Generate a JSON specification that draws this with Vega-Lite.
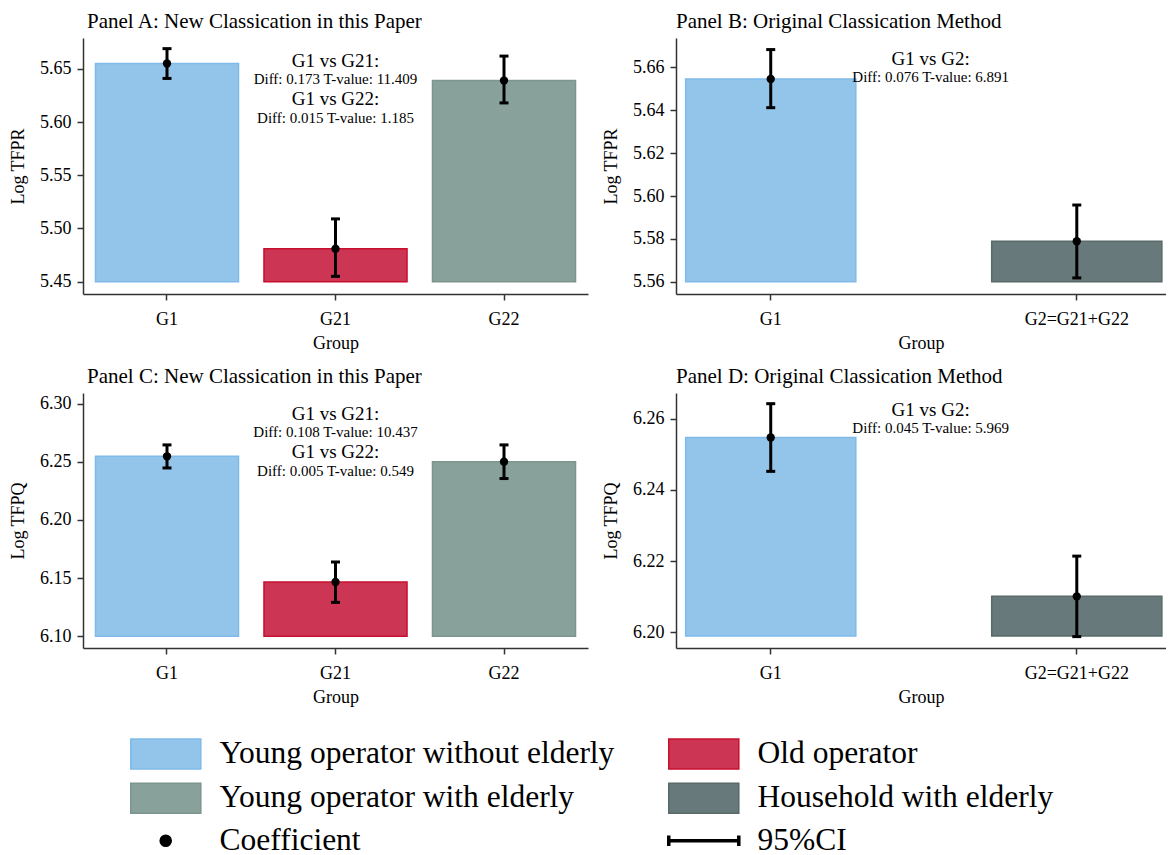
{
  "$schema": "https://vega.github.io/schema/vega-lite/v6.json",
  "padding": {"left": 9, "top": 11, "right": 0, "bottom": 0},
  "background": "white",
  "spacing": 14,
  "config": {
    "font": "Liberation Serif",
    "view": {"stroke": null},
    "axis": {"labelFont": "Liberation Serif", "titleFont": "Liberation Serif", "labelFontSize": 18, "titleFontSize": 18, "titleFontWeight": "normal", "labelColor": "black", "titleColor": "black", "domainColor": "#333333", "tickColor": "#333333", "domainWidth": 1.5, "tickWidth": 1.5, "tickSize": 6, "grid": false, "labelPadding": 6},
    "axisX": {"labelAngle": 0, "titlePadding": 6, "labelPadding": 10},
    "axisY": {"titlePadding": 12},
    "legend": {"labelFont": "serif", "labelFontSize": 31.5, "labelColor": "black"},
    "title": {"font": "Liberation Serif", "fontSize": 21, "fontWeight": "normal", "anchor": "start", "frame": "group", "offset": 6, "color": "black"},
    "text": {"font": "Liberation Serif", "color": "black"}
  },
  "vconcat": [
    {
      "spacing": 14,
      "hconcat": [
        {
          "width": 505, "height": 256,
          "title": {"text": "Panel A: New Classication in this Paper", "dx": 4},
          "data": {"values": [
            {"group": "G1", "type": "Young operator without elderly", "coef": 5.655, "lo": 5.641, "hi": 5.669},
            {"group": "G21", "type": "Old operator", "coef": 5.481, "lo": 5.455, "hi": 5.509},
            {"group": "G22", "type": "Young operator with elderly", "coef": 5.639, "lo": 5.618, "hi": 5.662}
          ]},
          "encoding": {"x": {"field": "group", "type": "nominal", "title": "Group", "sort": null, "scale": {"paddingInner": 0.151, "paddingOuter": 0.074}}},
          "layer": [
            {"mark": {"type": "bar", "strokeWidth": 1.5},
             "encoding": {
               "y": {"field": "coef", "type": "quantitative", "title": "Log TFPR", "scale": {"domain": [5.4384, 5.679], "nice": false, "zero": false}, "axis": {"values": [5.45, 5.5, 5.55, 5.6, 5.65], "format": ".2f"}},
               "y2": {"datum": 5.45},
               "color": {"field": "type", "type": "nominal", "scale": {"domain": ["Young operator without elderly", "Young operator with elderly", "Coefficient", "Old operator", "Household with elderly", "95%CI"], "range": ["#93c4e9", "#88a19a", "#000000", "#cd3555", "#67797a", "#000000"]},
                 "legend": {"title": null, "orient": "none", "legendX": 47, "legendY": 700, "columns": 2, "columnPadding": 46, "rowPadding": 7.5, "symbolSize": 900, "labelFont": "serif", "labelFontSize": 31.5, "labelLimit": 1000, "labelOffset": 58, "labelColor": "black",
                   "encode": {"symbols": {"update": {
                     "shape": {"signal": "datum.value === 'Coefficient' ? 'M0.96,0A0.37,0.37 0 1,1 1.7,0A0.37,0.37 0 1,1 0.96,0Z' : (datum.value === '95%CI' ? 'M-1,0H3.67M-1,-0.35V0.35M3.67,-0.35V0.35' : 'M-1,-1H3.67V1H-1Z')"},
                     "fill": {"scale": "color", "field": "value"},
                     "stroke": {"scale": "stroke", "field": "value"},
                     "strokeWidth": {"signal": "datum.value === '95%CI' ? 3.5 : 1.5"},
                     "opacity": {"value": 1}
                   }}}}},
               "stroke": {"field": "type", "type": "nominal", "legend": null, "scale": {"domain": ["Young operator without elderly", "Young operator with elderly", "Coefficient", "Old operator", "Household with elderly", "95%CI"], "range": ["#7fbaea", "#7c968f", "#000000", "#c8102e", "#586b69", "#000000"]}}
             }},
            {"mark": {"type": "rule", "strokeWidth": 3, "color": "black"},
             "encoding": {"y": {"field": "lo", "type": "quantitative", "title": "Log TFPR"}, "y2": {"field": "hi"}}},
            {"mark": {"type": "tick", "orient": "horizontal", "size": 9, "thickness": 3, "color": "black", "opacity": 1},
             "encoding": {"y": {"field": "lo", "type": "quantitative", "title": "Log TFPR"}}},
            {"mark": {"type": "tick", "orient": "horizontal", "size": 9, "thickness": 3, "color": "black", "opacity": 1},
             "encoding": {"y": {"field": "hi", "type": "quantitative", "title": "Log TFPR"}}},
            {"mark": {"type": "circle", "size": 70, "color": "black", "opacity": 1},
             "encoding": {"y": {"field": "coef", "type": "quantitative", "title": "Log TFPR"}}},
            {"data": {"values": [{"t": "G1 vs G21:"}]},
             "mark": {"type": "text", "fontSize": 19, "baseline": "middle", "align": "center"},
             "encoding": {"x": {"datum": "G21"}, "y": {"datum": 5.6578, "type": "quantitative"}, "text": {"field": "t"}}},
            {"data": {"values": [{"t": "Diff: 0.173 T-value: 11.409"}]},
             "mark": {"type": "text", "fontSize": 15, "baseline": "middle", "align": "center"},
             "encoding": {"x": {"datum": "G21"}, "y": {"datum": 5.6406, "type": "quantitative"}, "text": {"field": "t"}}},
            {"data": {"values": [{"t": "G1 vs G22:"}]},
             "mark": {"type": "text", "fontSize": 19, "baseline": "middle", "align": "center"},
             "encoding": {"x": {"datum": "G21"}, "y": {"datum": 5.6213, "type": "quantitative"}, "text": {"field": "t"}}},
            {"data": {"values": [{"t": "Diff: 0.015 T-value: 1.185"}]},
             "mark": {"type": "text", "fontSize": 15, "baseline": "middle", "align": "center"},
             "encoding": {"x": {"datum": "G21"}, "y": {"datum": 5.6041, "type": "quantitative"}, "text": {"field": "t"}}}
          ]
        },
        {
          "width": 490, "height": 256,
          "title": {"text": "Panel B: Original Classication Method"},
          "data": {"values": [
            {"group": "G1", "type": "Young operator without elderly", "coef": 5.6546, "lo": 5.6412, "hi": 5.6683},
            {"group": "G2=G21+G22", "type": "Household with elderly", "coef": 5.5789, "lo": 5.5618, "hi": 5.5958}
          ]},
          "encoding": {"x": {"field": "group", "type": "nominal", "title": "Group", "sort": null, "scale": {"paddingInner": 0.444, "paddingOuter": 0.0225, "align": 0.7}}},
          "layer": [
            {"mark": {"type": "bar", "strokeWidth": 1.5},
             "encoding": {
               "y": {"field": "coef", "type": "quantitative", "title": "Log TFPR", "scale": {"domain": [5.5543, 5.6737], "nice": false, "zero": false}, "axis": {"values": [5.56, 5.58, 5.6, 5.62, 5.64, 5.66], "format": ".2f"}},
               "y2": {"datum": 5.56},
               "color": {"field": "type", "type": "nominal", "scale": {"domain": ["Young operator without elderly", "Young operator with elderly", "Coefficient", "Old operator", "Household with elderly", "95%CI"], "range": ["#93c4e9", "#88a19a", "#000000", "#cd3555", "#67797a", "#000000"]},
                 "legend": {"title": null, "orient": "none", "legendX": 47, "legendY": 700, "columns": 2, "columnPadding": 46, "rowPadding": 7.5, "symbolSize": 900, "labelFont": "serif", "labelFontSize": 31.5, "labelLimit": 1000, "labelOffset": 58, "labelColor": "black",
                   "encode": {"symbols": {"update": {
                     "shape": {"signal": "datum.value === 'Coefficient' ? 'M0.96,0A0.37,0.37 0 1,1 1.7,0A0.37,0.37 0 1,1 0.96,0Z' : (datum.value === '95%CI' ? 'M-1,0H3.67M-1,-0.35V0.35M3.67,-0.35V0.35' : 'M-1,-1H3.67V1H-1Z')"},
                     "fill": {"scale": "color", "field": "value"},
                     "stroke": {"scale": "stroke", "field": "value"},
                     "strokeWidth": {"signal": "datum.value === '95%CI' ? 3.5 : 1.5"},
                     "opacity": {"value": 1}
                   }}}}},
               "stroke": {"field": "type", "type": "nominal", "legend": null, "scale": {"domain": ["Young operator without elderly", "Young operator with elderly", "Coefficient", "Old operator", "Household with elderly", "95%CI"], "range": ["#7fbaea", "#7c968f", "#000000", "#c8102e", "#586b69", "#000000"]}}
             }},
            {"mark": {"type": "rule", "strokeWidth": 3, "color": "black"},
             "encoding": {"y": {"field": "lo", "type": "quantitative", "title": "Log TFPR"}, "y2": {"field": "hi"}}},
            {"mark": {"type": "tick", "orient": "horizontal", "size": 9, "thickness": 3, "color": "black", "opacity": 1},
             "encoding": {"y": {"field": "lo", "type": "quantitative", "title": "Log TFPR"}}},
            {"mark": {"type": "tick", "orient": "horizontal", "size": 9, "thickness": 3, "color": "black", "opacity": 1},
             "encoding": {"y": {"field": "hi", "type": "quantitative", "title": "Log TFPR"}}},
            {"mark": {"type": "circle", "size": 70, "color": "black", "opacity": 1},
             "encoding": {"y": {"field": "coef", "type": "quantitative", "title": "Log TFPR"}}},
            {"data": {"values": [{"t": "G1 vs G2:"}]},
             "mark": {"type": "text", "fontSize": 19, "baseline": "middle", "align": "center"},
             "encoding": {"x": {"datum": "G1", "bandPosition": 1.44}, "y": {"datum": 5.6638, "type": "quantitative"}, "text": {"field": "t"}}},
            {"data": {"values": [{"t": "Diff: 0.076 T-value: 6.891"}]},
             "mark": {"type": "text", "fontSize": 15, "baseline": "middle", "align": "center"},
             "encoding": {"x": {"datum": "G1", "bandPosition": 1.44}, "y": {"datum": 5.6557, "type": "quantitative"}, "text": {"field": "t"}}}
          ]
        }
      ]
    },
    {
      "spacing": 14,
      "hconcat": [
        {
          "width": 505, "height": 255,
          "title": {"text": "Panel C: New Classication in this Paper", "dx": 4},
          "data": {"values": [
            {"group": "G1", "type": "Young operator without elderly", "coef": 6.2547, "lo": 6.2447, "hi": 6.2645},
            {"group": "G21", "type": "Old operator", "coef": 6.1467, "lo": 6.1292, "hi": 6.1639},
            {"group": "G22", "type": "Young operator with elderly", "coef": 6.2501, "lo": 6.2356, "hi": 6.2645}
          ]},
          "encoding": {"x": {"field": "group", "type": "nominal", "title": "Group", "sort": null, "scale": {"paddingInner": 0.151, "paddingOuter": 0.074}}},
          "layer": [
            {"mark": {"type": "bar", "strokeWidth": 1.5},
             "encoding": {
               "y": {"field": "coef", "type": "quantitative", "title": "Log TFPQ", "scale": {"domain": [6.09, 6.3091], "nice": false, "zero": false}, "axis": {"values": [6.1, 6.15, 6.2, 6.25, 6.3], "format": ".2f"}},
               "y2": {"datum": 6.1},
               "color": {"field": "type", "type": "nominal", "scale": {"domain": ["Young operator without elderly", "Young operator with elderly", "Coefficient", "Old operator", "Household with elderly", "95%CI"], "range": ["#93c4e9", "#88a19a", "#000000", "#cd3555", "#67797a", "#000000"]},
                 "legend": {"title": null, "orient": "none", "legendX": 47, "legendY": 700, "columns": 2, "columnPadding": 46, "rowPadding": 7.5, "symbolSize": 900, "labelFont": "serif", "labelFontSize": 31.5, "labelLimit": 1000, "labelOffset": 58, "labelColor": "black",
                   "encode": {"symbols": {"update": {
                     "shape": {"signal": "datum.value === 'Coefficient' ? 'M0.96,0A0.37,0.37 0 1,1 1.7,0A0.37,0.37 0 1,1 0.96,0Z' : (datum.value === '95%CI' ? 'M-1,0H3.67M-1,-0.35V0.35M3.67,-0.35V0.35' : 'M-1,-1H3.67V1H-1Z')"},
                     "fill": {"scale": "color", "field": "value"},
                     "stroke": {"scale": "stroke", "field": "value"},
                     "strokeWidth": {"signal": "datum.value === '95%CI' ? 3.5 : 1.5"},
                     "opacity": {"value": 1}
                   }}}}},
               "stroke": {"field": "type", "type": "nominal", "legend": null, "scale": {"domain": ["Young operator without elderly", "Young operator with elderly", "Coefficient", "Old operator", "Household with elderly", "95%CI"], "range": ["#7fbaea", "#7c968f", "#000000", "#c8102e", "#586b69", "#000000"]}}
             }},
            {"mark": {"type": "rule", "strokeWidth": 3, "color": "black"},
             "encoding": {"y": {"field": "lo", "type": "quantitative", "title": "Log TFPQ"}, "y2": {"field": "hi"}}},
            {"mark": {"type": "tick", "orient": "horizontal", "size": 9, "thickness": 3, "color": "black", "opacity": 1},
             "encoding": {"y": {"field": "lo", "type": "quantitative", "title": "Log TFPQ"}}},
            {"mark": {"type": "tick", "orient": "horizontal", "size": 9, "thickness": 3, "color": "black", "opacity": 1},
             "encoding": {"y": {"field": "hi", "type": "quantitative", "title": "Log TFPQ"}}},
            {"mark": {"type": "circle", "size": 70, "color": "black", "opacity": 1},
             "encoding": {"y": {"field": "coef", "type": "quantitative", "title": "Log TFPQ"}}},
            {"data": {"values": [{"t": "G1 vs G21:"}]},
             "mark": {"type": "text", "fontSize": 19, "baseline": "middle", "align": "center"},
             "encoding": {"x": {"datum": "G21"}, "y": {"datum": 6.2914, "type": "quantitative"}, "text": {"field": "t"}}},
            {"data": {"values": [{"t": "Diff: 0.108 T-value: 10.437"}]},
             "mark": {"type": "text", "fontSize": 15, "baseline": "middle", "align": "center"},
             "encoding": {"x": {"datum": "G21"}, "y": {"datum": 6.2756, "type": "quantitative"}, "text": {"field": "t"}}},
            {"data": {"values": [{"t": "G1 vs G22:"}]},
             "mark": {"type": "text", "fontSize": 19, "baseline": "middle", "align": "center"},
             "encoding": {"x": {"datum": "G21"}, "y": {"datum": 6.2585, "type": "quantitative"}, "text": {"field": "t"}}},
            {"data": {"values": [{"t": "Diff: 0.005 T-value: 0.549"}]},
             "mark": {"type": "text", "fontSize": 15, "baseline": "middle", "align": "center"},
             "encoding": {"x": {"datum": "G21"}, "y": {"datum": 6.2424, "type": "quantitative"}, "text": {"field": "t"}}}
          ]
        },
        {
          "width": 490, "height": 255,
          "title": {"text": "Panel D: Original Classication Method"},
          "data": {"values": [
            {"group": "G1", "type": "Young operator without elderly", "coef": 6.2547, "lo": 6.2452, "hi": 6.2642},
            {"group": "G2=G21+G22", "type": "Household with elderly", "coef": 6.2101, "lo": 6.1988, "hi": 6.2214}
          ]},
          "encoding": {"x": {"field": "group", "type": "nominal", "title": "Group", "sort": null, "scale": {"paddingInner": 0.444, "paddingOuter": 0.0225, "align": 0.7}}},
          "layer": [
            {"mark": {"type": "bar", "strokeWidth": 1.5},
             "encoding": {
               "y": {"field": "coef", "type": "quantitative", "title": "Log TFPQ", "scale": {"domain": [6.1956, 6.2672], "nice": false, "zero": false}, "axis": {"values": [6.2, 6.22, 6.24, 6.26], "format": ".2f"}},
               "y2": {"datum": 6.199},
               "color": {"field": "type", "type": "nominal", "scale": {"domain": ["Young operator without elderly", "Young operator with elderly", "Coefficient", "Old operator", "Household with elderly", "95%CI"], "range": ["#93c4e9", "#88a19a", "#000000", "#cd3555", "#67797a", "#000000"]},
                 "legend": {"title": null, "orient": "none", "legendX": 47, "legendY": 700, "columns": 2, "columnPadding": 46, "rowPadding": 7.5, "symbolSize": 900, "labelFont": "serif", "labelFontSize": 31.5, "labelLimit": 1000, "labelOffset": 58, "labelColor": "black",
                   "encode": {"symbols": {"update": {
                     "shape": {"signal": "datum.value === 'Coefficient' ? 'M0.96,0A0.37,0.37 0 1,1 1.7,0A0.37,0.37 0 1,1 0.96,0Z' : (datum.value === '95%CI' ? 'M-1,0H3.67M-1,-0.35V0.35M3.67,-0.35V0.35' : 'M-1,-1H3.67V1H-1Z')"},
                     "fill": {"scale": "color", "field": "value"},
                     "stroke": {"scale": "stroke", "field": "value"},
                     "strokeWidth": {"signal": "datum.value === '95%CI' ? 3.5 : 1.5"},
                     "opacity": {"value": 1}
                   }}}}},
               "stroke": {"field": "type", "type": "nominal", "legend": null, "scale": {"domain": ["Young operator without elderly", "Young operator with elderly", "Coefficient", "Old operator", "Household with elderly", "95%CI"], "range": ["#7fbaea", "#7c968f", "#000000", "#c8102e", "#586b69", "#000000"]}}
             }},
            {"mark": {"type": "rule", "strokeWidth": 3, "color": "black"},
             "encoding": {"y": {"field": "lo", "type": "quantitative", "title": "Log TFPQ"}, "y2": {"field": "hi"}}},
            {"mark": {"type": "tick", "orient": "horizontal", "size": 9, "thickness": 3, "color": "black", "opacity": 1},
             "encoding": {"y": {"field": "lo", "type": "quantitative", "title": "Log TFPQ"}}},
            {"mark": {"type": "tick", "orient": "horizontal", "size": 9, "thickness": 3, "color": "black", "opacity": 1},
             "encoding": {"y": {"field": "hi", "type": "quantitative", "title": "Log TFPQ"}}},
            {"mark": {"type": "circle", "size": 70, "color": "black", "opacity": 1},
             "encoding": {"y": {"field": "coef", "type": "quantitative", "title": "Log TFPQ"}}},
            {"data": {"values": [{"t": "G1 vs G2:"}]},
             "mark": {"type": "text", "fontSize": 19, "baseline": "middle", "align": "center"},
             "encoding": {"x": {"datum": "G1", "bandPosition": 1.44}, "y": {"datum": 6.2625, "type": "quantitative"}, "text": {"field": "t"}}},
            {"data": {"values": [{"t": "Diff: 0.045 T-value: 5.969"}]},
             "mark": {"type": "text", "fontSize": 15, "baseline": "middle", "align": "center"},
             "encoding": {"x": {"datum": "G1", "bandPosition": 1.44}, "y": {"datum": 6.2574, "type": "quantitative"}, "text": {"field": "t"}}}
          ]
        }
      ]
    }
  ]
}
